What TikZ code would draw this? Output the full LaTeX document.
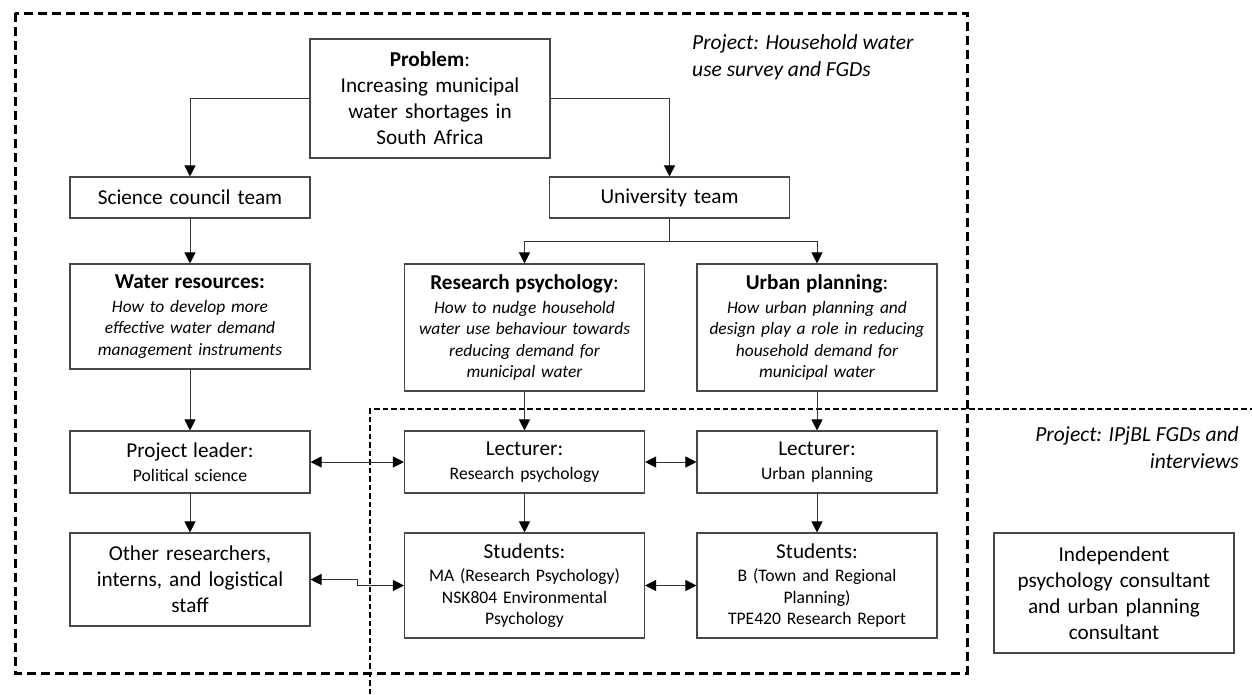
\documentclass[tikz,border=0pt]{standalone}
\usepackage{fontspec}
\setmainfont{Carlito}
\usetikzlibrary{arrows.meta,calc}
\newcommand\fsMain{\fontsize{21.2}{26}\selectfont}
\newcommand\fsSub{\fontsize{17.6}{21.5}\selectfont}
\newcommand\fsIt{\fontsize{17.4}{21.5}\selectfont\itshape}
\begin{document}
\begin{tikzpicture}[x=1pt,y=-1pt,
  box/.style={draw=black!72, line width=1.1pt, inner sep=0pt, align=center,
    text width=236pt, minimum width=240pt, font=\fsMain},
  subbox/.style={box, font=\fsSub},
  itbox/.style={box, font=\fsIt},
  conn/.style={draw=black!80, line width=1pt, -{Triangle[length=11pt,width=11pt,color=black]}},
  dbl/.style={draw=black!80, line width=1pt, {Triangle[length=11pt,width=11pt,color=black]}-{Triangle[length=11pt,width=11pt,color=black]}},
  bigdash/.style={line width=3pt, dash pattern=on 9pt off 5pt},
  smalldash/.style={line width=1.5pt, dash pattern=on 5.5pt off 3pt},
  lbl/.style={inner sep=0pt, font=\fontsize{21.5}{27}\selectfont\itshape}
]
\useasboundingbox (0,0) rectangle (1252,694);

% dashed project frames
\draw[bigdash] (15,13) rectangle (967,673);
\draw[smalldash] (370,694) -- (370,409) -- (1252,409);

% labels
\node[lbl, anchor=west, align=left] (lab1) at (692,57) {Project: Household water\\use survey and FGDs};
\node[lbl, anchor=east, align=right] (lab2) at (1239,448) {Project: IPjBL FGDs and\\interviews};

% nodes
\node[box, minimum height=119pt] (prob) at (430,98.5) {\textbf{Problem}:\\Increasing municipal\\water shortages in\\South Africa};
\node[box, minimum height=41pt] (sci) at (190,197.5) {Science council team};
\node[box, minimum height=41pt] (uni) at (669.5,197.5) {University team};

\node[itbox, minimum height=105pt] (wat) at (190,316.5) {{\fsMain\upshape\bfseries Water resources:}\\[2pt]How to develop more\\effective water demand\\management instruments};
\node[itbox, minimum height=127pt] (rpsy) at (524.5,327.5) {{\fsMain\upshape\bfseries Research psychology}{\fsMain\upshape:}\\[2pt]How to nudge household\\water use behaviour towards\\reducing demand for\\municipal water};
\node[itbox, minimum height=127pt] (urb) at (817,327.5) {{\fsMain\upshape\bfseries Urban planning}{\fsMain\upshape:}\\[2pt]How urban planning and\\design play a role in reducing\\household demand for\\municipal water};

\node[subbox, minimum height=62pt] (lead) at (190,462) {{\fsMain Project leader:}\\[2pt]Political science};
\node[subbox, minimum height=62pt] (lrp) at (524.5,462) {{\fsMain Lecturer:}\\[2pt]Research psychology};
\node[subbox, minimum height=62pt] (lup) at (817,462) {{\fsMain Lecturer:}\\[2pt]Urban planning};

\node[box, minimum height=93pt] (oth) at (190,579.5) {Other researchers,\\interns, and logistical\\staff};
\node[subbox, minimum height=105pt] (srp) at (524.5,585.5) {{\fsMain Students:}\\[2pt]MA (Research Psychology)\\NSK804 Environmental\\Psychology};
\node[subbox, minimum height=105pt] (sup) at (817,585.5) {{\fsMain Students:}\\[2pt]B (Town and Regional\\Planning)\\TPE420 Research Report};
\node[box, minimum height=120pt] (ind) at (1114,593) {Independent\\psychology consultant\\and urban planning\\consultant};

% connectors
\draw[conn] (prob.west) -| (sci.north);
\draw[conn] (prob.east) -| (uni.north);
\draw[conn] (sci.south) -- (wat.north);
\coordinate (uj) at ($(uni.south)+(0,23)$);
\draw[conn] (uni.south) -- (uj) -| (rpsy.north);
\draw[conn] (uj) -| (urb.north);
\draw[conn] (wat.south) -- (lead.north);
\draw[conn] (rpsy.south) -- (lrp.north);
\draw[conn] (urb.south) -- (lup.north);
\draw[conn] (lead.south) -- (oth.north);
\draw[conn] (lrp.south) -- (srp.north);
\draw[conn] (lup.south) -- (sup.north);
\draw[dbl] (lead.east) -- (lrp.west);
\draw[dbl] (lrp.east) -- (lup.west);
\draw[dbl] (oth.east) -- ++(47,0) |- (srp.west);
\draw[dbl] (srp.east) -- (sup.west);
\end{tikzpicture}
\end{document}
